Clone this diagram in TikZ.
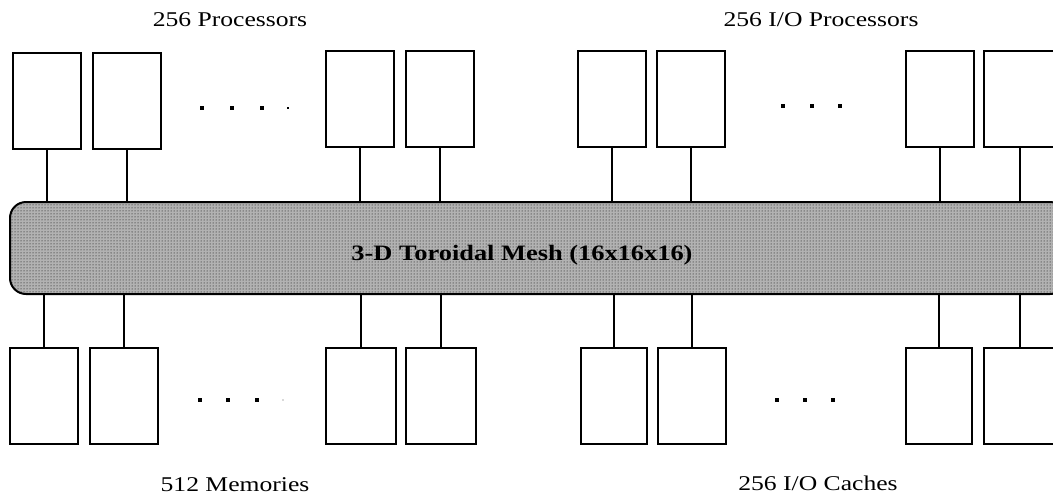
\documentclass[tikz,border=0pt]{standalone}
\usepackage{fontspec}
\setmainfont{Liberation Serif}
\usetikzlibrary{patterns}
\begin{document}
\begin{tikzpicture}[x=1pt,y=-1pt,
  unitbox/.style={draw, line width=2pt, minimum width=68pt, minimum height=96pt, inner sep=0pt},
  wire/.style={line width=2pt},
  lbl/.style={font=\fontsize{21}{24}\selectfont, inner sep=0pt},
  meshbox/.style={draw, line width=2pt, rounded corners=16pt, fill=black!30,
    postaction={pattern=dots}, minimum width=1056pt, minimum height=92pt, inner sep=0pt},
  meshtext/.style={font=\bfseries\fontsize{22}{26}\selectfont, inner sep=0pt},
  dotmark/.style={fill=black, minimum size=3.5pt, inner sep=0pt}]
\useasboundingbox (0,0) rectangle (1053,496);
\clip (0,0) rectangle (1053,496);
% mesh
\node[meshbox] (mesh) at (538,248) {};
\node[meshtext] (meshlabel) at (522,255) {\scalebox{1.2}[1]{3-D Toroidal Mesh (16x16x16)}};
% top row
\node[unitbox] (p1) at (47,101) {};
\node[unitbox] (p2) at (127,101) {};
\node[unitbox] (p3) at (360,99) {};
\node[unitbox] (p4) at (440,99) {};
\node[unitbox] (p5) at (612,99) {};
\node[unitbox] (p6) at (691,99) {};
\node[unitbox] (p7) at (940,99) {};
\node[unitbox, minimum width=72pt] (p8) at (1020,99) {};
% bottom row
\node[unitbox] (m1) at (44,396) {};
\node[unitbox] (m2) at (124,396) {};
\node[unitbox, minimum width=70pt] (m3) at (361,396) {};
\node[unitbox, minimum width=70pt] (m4) at (441,396) {};
\node[unitbox, minimum width=66pt] (c1) at (614,396) {};
\node[unitbox] (c2) at (692,396) {};
\node[unitbox, minimum width=66pt] (c3) at (939,396) {};
\node[unitbox, minimum width=72pt] (c4) at (1020,396) {};
% connectors
\foreach \n in {p1,p2,p3,p4,p5,p6,p7,p8}{
  \draw[wire] (\n.south) -- (\n.south |- mesh.north);
}
\foreach \n in {m1,m2,m3,m4,c1,c2,c3,c4}{
  \draw[wire] (\n.north) -- (\n.north |- mesh.south);
}
% ellipsis dots
\foreach \x in {202,232,262}{ \node[dotmark] at (\x,108) {}; }
\node[dotmark, minimum size=2.5pt] at (288,108) {};
\foreach \x in {783,812,840}{ \node[dotmark] at (\x,106) {}; }
\foreach \x in {200,228,257}{ \node[dotmark] at (\x,400) {}; }
\node[dotmark, fill=black!15, minimum size=2.5pt] at (283,400) {};
\foreach \x in {777,805,833}{ \node[dotmark] at (\x,400) {}; }
% labels
\node[lbl] (lproc) at (230,20) {\scalebox{1.22}[1]{256 Processors}};
\node[lbl] (lio) at (821,20) {\scalebox{1.22}[1]{256 I/O Processors}};
\node[lbl] (lmem) at (235,485) {\scalebox{1.22}[1]{512 Memories}};
\node[lbl] (lcache) at (818,483) {\scalebox{1.22}[1]{256 I/O Caches}};
\end{tikzpicture}
\end{document}
